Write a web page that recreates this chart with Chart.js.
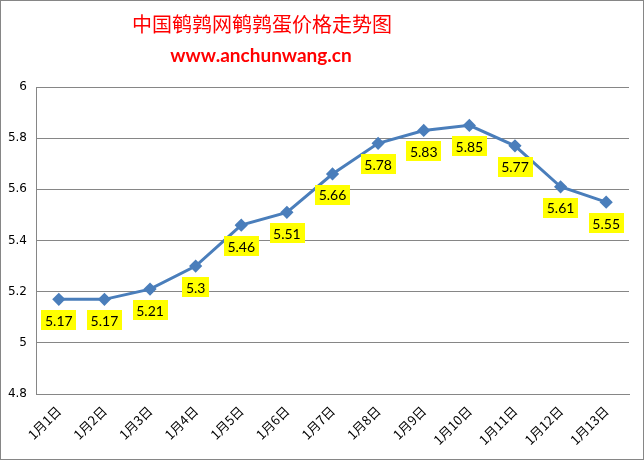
<!DOCTYPE html>
<html>
<head>
<meta charset="utf-8">
<script src="https://cdn.jsdelivr.net/npm/chart.js@4"></script>
<style>
  body { margin: 0; background: #fff; }
  #wrap { width: 644px; height: 460px; position: relative; }
</style>
</head>
<body>
<div id="wrap"><canvas id="price-chart" width="644" height="460"></canvas></div>
<script>
// chart data
const dates = ['1月1日', '1月2日', '1月3日', '1月4日', '1月5日', '1月6日', '1月7日', '1月8日', '1月9日', '1月10日', '1月11日', '1月12日', '1月13日'];
const prices = [5.17, 5.17, 5.21, 5.3, 5.46, 5.51, 5.66, 5.78, 5.83, 5.85, 5.77, 5.61, 5.55];
const titleText = '中国鹌鹑网鹌鹑蛋价格走势图';
const subtitleText = 'www.anchunwang.cn';

// titles, frame and yellow value labels
const decorPlugin = {
  id: 'decor',
  beforeDraw(chart) {
    const c = chart.ctx;
    c.save();
    c.fillStyle = '#fff';
    c.fillRect(0, 0, chart.width, chart.height);
    c.strokeStyle = '#868686';
    c.lineWidth = 1;
    c.strokeRect(0.5, 0.5, chart.width - 1, chart.height - 1);
    c.fillStyle = '#ff0000';
    c.textAlign = 'center';
    c.textBaseline = 'middle';
    c.font = '20px "Noto Sans CJK SC"';
    c.fillText(titleText, 262, 24);
    c.font = 'bold 19px Lato';
    c.fillText(subtitleText, 261, 56);
    c.restore();
  },
  afterDatasetsDraw(chart) {
    const c = chart.ctx;
    const meta = chart.getDatasetMeta(0);
    c.save();
    c.font = '14px Lato';
    c.textAlign = 'center';
    c.textBaseline = 'middle';
    meta.data.forEach((pt, i) => {
      const txt = String(prices[i]);
      const w = c.measureText(txt).width + 7;
      const y = pt.y + 21;
      c.fillStyle = '#ffff00';
      c.fillRect(Math.round(pt.x - w / 2), Math.round(y - 10), Math.round(w), 20);
      c.fillStyle = '#000';
      c.fillText(txt, pt.x, y + 1);
    });
    c.restore();
  }
};

const ctx = document.getElementById('price-chart').getContext('2d');
const priceChart = new Chart(ctx, {
  type: 'line',
  data: {
    labels: dates,
    datasets: [{
      data: prices,
      borderColor: '#4a7ebb',
      backgroundColor: '#4a7ebb',
      borderWidth: 3,
      pointStyle: 'rectRot',
      pointRadius: 4.5,
      pointHoverRadius: 4.5,
      tension: 0
    }]
  },
  options: {
    responsive: false,
    animation: false,
    layout: { padding: { top: 87, right: 15, left: 0, bottom: 0 } },
    plugins: {
      legend: { display: false },
      tooltip: { enabled: false }
    },
    scales: {
      x: {
        offset: true,
        grid: { display: false, drawTicks: false },
        border: { color: '#868686', width: 1 },
        ticks: {
          minRotation: 45,
          maxRotation: 45,
          padding: 9,
          color: '#000',
          font: { family: '"Noto Sans CJK SC"', size: 13 }
        },
        afterFit(scale) { scale.height = 66; }
      },
      y: {
        min: 4.8,
        max: 6,
        grid: { color: '#868686', drawTicks: false },
        border: { color: '#868686', width: 1 },
        ticks: {
          stepSize: 0.2,
          padding: 9,
          color: '#000',
          font: { family: '"DejaVu Sans"', size: 12 },
          callback: v => Math.round(v * 10) / 10
        },
        afterFit(scale) { scale.width = 36; }
      }
    }
  },
  plugins: [decorPlugin]
});
</script>
</body>
</html>
